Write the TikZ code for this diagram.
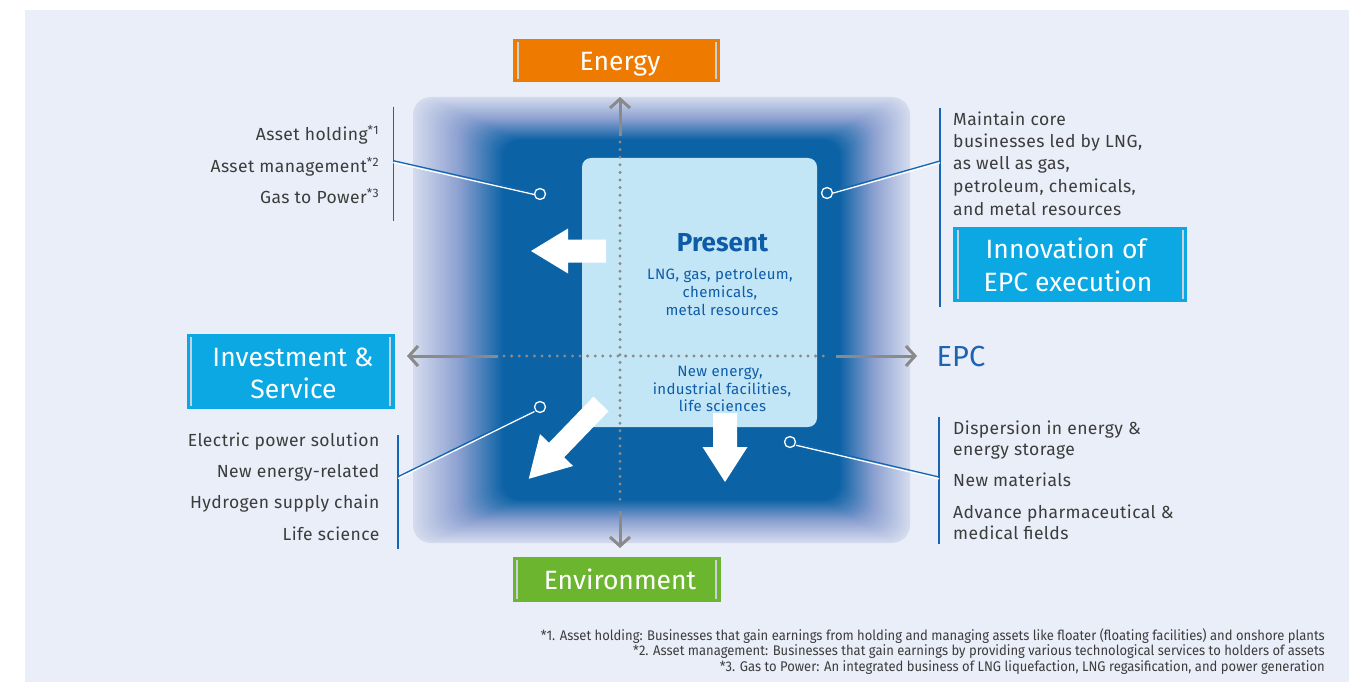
\documentclass[tikz,border=0pt]{standalone}
\usepackage{fontspec}
\setmainfont{Fira Sans}
\newfontfamily\notefont[FakeStretch=0.93]{Fira Sans}
\newfontfamily\listfont[LetterSpace=2.5]{Fira Sans}
\usetikzlibrary{arrows.meta}
\definecolor{bgc}{HTML}{EAEEF9}
\definecolor{glowout}{HTML}{D4DBEE}
\definecolor{glowmid}{HTML}{8DA1D1}
\definecolor{darkb}{HTML}{0B62A5}
\definecolor{lightb}{HTML}{C3E6F6}
\definecolor{presb}{HTML}{0E5CA8}
\definecolor{axisg}{HTML}{8A8A8A}
\definecolor{txtg}{HTML}{3C3C3C}
\definecolor{leadb}{HTML}{1466B4}
\definecolor{cyanb}{HTML}{0BA8E4}
\definecolor{orangeb}{HTML}{EE7A00}
\definecolor{greenb}{HTML}{6CB62F}
\definecolor{barc}{HTML}{C9D2DC}
\definecolor{epcb}{HTML}{1C64B2}
\newcommand\fatarrow[7]{%
  \fill[white, shift={(#1,#2)}, rotate=#3]
    (0,{-#5/2}) -- ({#4-#6},{-#5/2}) -- ({#4-#6},{-#7/2}) -- (#4,0) --
    ({#4-#6},{#7/2}) -- ({#4-#6},{#5/2}) -- (0,{#5/2}) -- cycle;}
\tikzset{
  axisline/.style={axisg, line width=3pt},
  axishead/.style={axisline, -{Straight Barb[length=9pt,width=20pt]}},
  axisdot/.style={axisg, line width=3.3pt, line cap=round, dash pattern=on 0pt off 7.6pt},
  labelbox/.style={text=white, inner sep=0pt, align=center,
    path picture={
      \draw[barc, line width=2pt]
        ([xshift=4.5pt,yshift=-3pt]path picture bounding box.north west) --
        ([xshift=4.5pt,yshift=3pt]path picture bounding box.south west);
      \draw[barc, line width=2pt]
        ([xshift=-4.5pt,yshift=-3pt]path picture bounding box.north east) --
        ([xshift=-4.5pt,yshift=3pt]path picture bounding box.south east);}},
  boxtxt/.style={text=white, inner sep=0pt, anchor=base, font=\fontsize{26.5}{31}\selectfont},
  listtxt/.style={text=txtg, inner sep=0pt, font=\listfont\fontsize{17.5}{21}\selectfont},
  prestxt/.style={text=presb, inner sep=0pt, anchor=base, font=\listfont\fontsize{15}{17.5}\selectfont},
  notetxt/.style={text=txtg, inner sep=0pt, anchor=base east, font=\notefont\fontsize{14}{15}\selectfont},
  bracket/.style={leadb, line width=1.5pt},
  leader/.style={leadb, line width=1.3pt},
  leaderw/.style={white, line width=1.3pt},
  dotc/.style={circle, draw=white, fill=darkb, line width=1.3pt, minimum size=11pt, inner sep=0pt},
}
\begin{document}
\begin{tikzpicture}[x=1pt,y=-1pt]
\useasboundingbox (0,0) rectangle (1358,682);
\fill[white] (0,0) rectangle (1358,682);
\fill[bgc] (25,10) rectangle (1349,682);
% glow
\foreach \i in {0,...,50}{
  \pgfmathsetmacro\t{\i/50}
  \ifdim\t pt<0.5pt
    \pgfmathsetmacro\p{200*\t}
    \colorlet{gc}{glowmid!\p!glowout}
  \else
    \pgfmathsetmacro\p{200*(\t-0.5)}
    \colorlet{gc}{darkb!\p!glowmid}
  \fi
  \fill[gc, rounded corners=18pt] ({413+90*\t},{97+43*\t}) rectangle ({910-70*\t},{543-43*\t});
}
% present box
\node[fill=lightb, rounded corners=9pt, minimum width=235pt, minimum height=269pt, inner sep=0pt] (pbox) at (699.5,292.5) {};
% axes
\coordinate (vtop) at (620,97);
\coordinate (vs1) at (620,136);
\coordinate (vd1) at (620,142);
\coordinate (vd2) at (620,505);
\coordinate (vs2) at (620,511);
\coordinate (vbot) at (620,548);
\coordinate (hl) at (407,356);
\coordinate (hs1) at (498,356);
\coordinate (hd1) at (504,356);
\coordinate (hd2) at (830,356);
\coordinate (hs2) at (836,356);
\coordinate (hr) at (917,356);
\draw[axishead] (vs1) -- (vtop);
\draw[axisdot] (vd1) -- (vd2);
\draw[axishead] (vs2) -- (vbot);
\draw[axishead] (hs1) -- (hl);
\draw[axisdot] (hd1) -- (hd2);
\draw[axishead] (hs2) -- (hr);
% white arrows
\fatarrow{606}{251}{180}{75}{23}{37}{45}
\fatarrow{725}{413}{-90}{69}{24}{35}{45}
\fatarrow{601}{404}{226}{104}{21}{40}{46}
% present texts
\node[text=presb, inner sep=0pt, anchor=base, font=\bfseries\fontsize{26}{30}\selectfont] (ptitle) at (722.5,251.5) {Present};
\node[prestxt] (p1) at (720,279) {LNG, gas, petroleum,};
\node[prestxt] (p2) at (720,297) {chemicals,};
\node[prestxt] (p3) at (722,315) {metal resources};
\node[prestxt] (n1) at (720,376.5) {New energy,};
\node[prestxt] (n2) at (722,394) {industrial facilities,};
\node[prestxt] (n3) at (722.5,411.5) {life sciences};
% label boxes
\node[labelbox, fill=orangeb, minimum width=207pt, minimum height=43pt] (energy) at (616.5,60.5) {};
\node[boxtxt] (energyt) at (620,71) {Energy};
\node[labelbox, fill=greenb, minimum width=208pt, minimum height=44.5pt] (env) at (616.5,579.3) {};
\node[boxtxt] (envt) at (620,589.3) {Environment};
\node[labelbox, fill=cyanb, minimum width=234pt, minimum height=75pt] (inno) at (1070,264.5) {};
\node[boxtxt] (inno1) at (1066,258) {Innovation of};
\node[boxtxt] (inno2) at (1068,291.5) {EPC execution};
\node[labelbox, fill=cyanb, minimum width=208pt, minimum height=75pt] (inv) at (290.8,371.5) {};
\node[boxtxt] (inv1) at (293,366.7) {Investment \&};
\node[boxtxt] (inv2) at (293.5,398) {Service};
% EPC
\node[text=epcb, inner sep=0pt, anchor=base west, font=\fontsize{29}{33}\selectfont] (epc) at (936.5,366.7) {EPC};
% left upper list
\node[listtxt, anchor=base east] (lu1) at (379.5,140.7) {Asset holding\textsuperscript{*1}};
\node[listtxt, anchor=base east] (lu2) at (379.5,172.3) {Asset management\textsuperscript{*2}};
\node[listtxt, anchor=base east] (lu3) at (379.5,203.3) {Gas to Power\textsuperscript{*3}};
% right upper list
\node[listtxt, anchor=base west] (ru1) at (953,125.5) {Maintain core};
\node[listtxt, anchor=base west] (ru2) at (953,148) {businesses led by LNG,};
\node[listtxt, anchor=base west] (ru3) at (953,170) {as well as gas,};
\node[listtxt, anchor=base west] (ru4) at (953,192.5) {petroleum, chemicals,};
\node[listtxt, anchor=base west] (ru5) at (953,215) {and metal resources};
% left lower list
\node[listtxt, anchor=base east] (ll1) at (379.5,446) {Electric power solution};
\node[listtxt, anchor=base east] (ll2) at (379.5,477.3) {New energy-related};
\node[listtxt, anchor=base east] (ll3) at (379.5,508.3) {Hydrogen supply chain};
\node[listtxt, anchor=base east] (ll4) at (379.5,540) {Life science};
% right lower list
\node[listtxt, anchor=base west] (rl1) at (953,434) {Dispersion in energy \&};
\node[listtxt, anchor=base west] (rl2) at (953,455.5) {energy storage};
\node[listtxt, anchor=base west] (rl3) at (953,486) {New materials};
\node[listtxt, anchor=base west] (rl4) at (953,518) {Advance pharmaceutical \&};
\node[listtxt, anchor=base west] (rl5) at (953,539.5) {medical fields};
% brackets
\coordinate (b1t) at (393.3,106.7); \coordinate (b1b) at (393.3,221);
\coordinate (b2t) at (940,108); \coordinate (b2b) at (940,307);
\coordinate (b3t) at (398,435); \coordinate (b3b) at (398,549);
\coordinate (b4t) at (939,417); \coordinate (b4b) at (939,544);
\draw[bracket] (b1t) -- (b1b);
\draw[bracket] (b2t) -- (b2b);
\draw[bracket] (b3t) -- (b3b);
\draw[bracket] (b4t) -- (b4b);
\coordinate (j1) at (393.3,160.7);
\coordinate (j2) at (940,161);
\coordinate (j3) at (398,476.7);
\coordinate (j4) at (939,477);
% circles
\node[dotc] (c1) at (540,194) {};
\node[dotc] (c2) at (827,193) {};
\node[dotc] (c3) at (540,407) {};
\node[dotc] (c4) at (790,442) {};
% leaders
\begin{scope}[transform canvas={yshift=-1.8pt}]
\draw[leaderw] (c1) -- (j1);
\draw[leaderw] (c2) -- (j2);
\draw[leaderw] (c3) -- (j3);
\draw[leaderw] (c4) -- (j4);
\end{scope}
\draw[leader] (c1) -- (j1);
\draw[leader] (c2) -- (j2);
\draw[leader] (c3) -- (j3);
\draw[leader] (c4) -- (j4);
% footnotes
\node[notetxt] (f1) at (1325,640) {*1. Asset holding: Businesses that gain earnings from holding and managing assets like floater (floating facilities) and onshore plants};
\node[notetxt] (f2) at (1325,655.5) {*2. Asset management: Businesses that gain earnings by providing various technological services to holders of assets};
\node[notetxt] (f3) at (1325,671) {*3. Gas to Power: An integrated business of LNG liquefaction, LNG regasification, and power generation};
\end{tikzpicture}
\end{document}
